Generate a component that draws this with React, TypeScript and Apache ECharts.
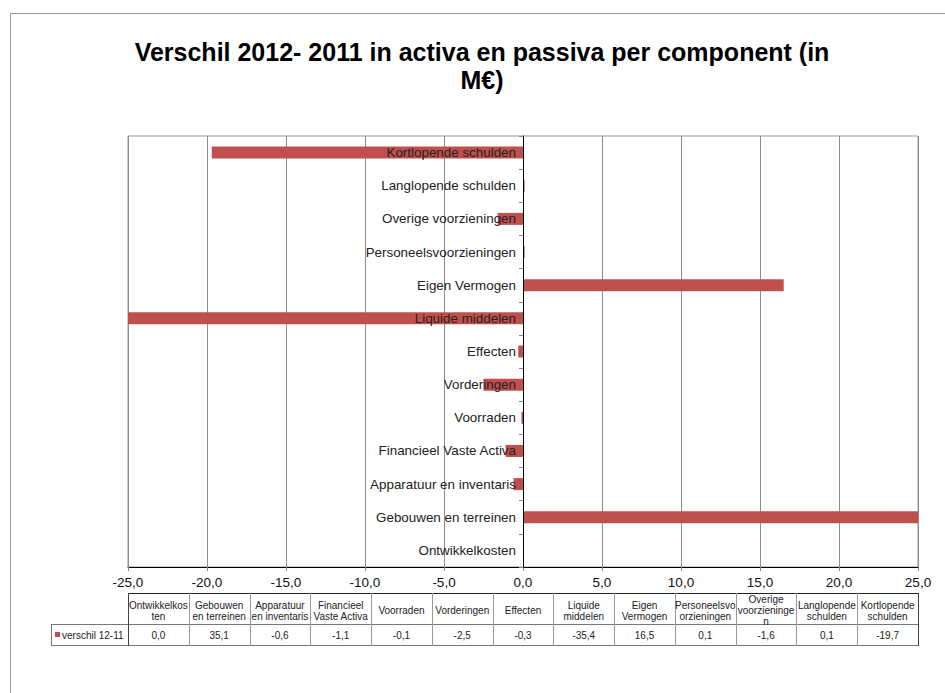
import React, { useEffect, useRef } from "react";
import * as echarts from "echarts";

const categories = [
  "Ontwikkelkosten",
  "Gebouwen en terreinen",
  "Apparatuur en inventaris",
  "Financieel Vaste Activa",
  "Voorraden",
  "Vorderingen",
  "Effecten",
  "Liquide middelen",
  "Eigen Vermogen",
  "Personeelsvoorzieningen",
  "Overige voorzieningen",
  "Langlopende schulden",
  "Kortlopende schulden",
];

const tableHeaders = [
  "Ontwikkelkos\nten",
  "Gebouwen\nen terreinen",
  "Apparatuur\nen inventaris",
  "Financieel\nVaste Activa",
  "Voorraden",
  "Vorderingen",
  "Effecten",
  "Liquide\nmiddelen",
  "Eigen\nVermogen",
  "Personeelsvo\norzieningen",
  "Overige\nvoorzieninge\nn",
  "Langlopende\nschulden",
  "Kortlopende\nschulden",
];

const seriesName = "verschil 12-11";
const values = [0.0, 35.1, -0.6, -1.1, -0.1, -2.5, -0.3, -35.4, 16.5, 0.1, -1.6, 0.1, -19.7];

const titleText = "Verschil 2012- 2011 in activa en passiva per component (in\nM€)";
const xMin = -25;
const xMax = 25;
const xInterval = 5;

const FONT = '"Liberation Sans", Arial, sans-serif';
const BAR = "#c0504d";

const fmt = (v: number) => v.toFixed(1).replace(".", ",");

export default function App() {
  const ref = useRef<HTMLDivElement>(null);
  useEffect(() => {
    if (!ref.current) return;
    const chart = echarts.init(ref.current, null, { renderer: "svg" });

    const gl = 128;
    const gr = 918;
    const colW = (gr - gl) / categories.length;
    const y0 = 593;
    const y1 = 624;
    const y2 = 645;
    const lx = 51;
    const zeroX = gl + ((0 - xMin) / (xMax - xMin)) * (gr - gl);

    const graphics: any[] = [];
    graphics.push({
      type: "polyline",
      shape: { points: [[10.5, 700], [10.5, 13.5], [950, 13.5]] },
      style: { stroke: "#9a9a9a", lineWidth: 1, fill: "none" },
    });
    graphics.push({
      type: "text",
      x: 482,
      y: 66,
      style: {
        text: titleText,
        font: `bold 25px ${FONT}`,
        fill: "#000",
        align: "center",
        verticalAlign: "middle",
        lineHeight: 28,
      },
    });
    const hline = (x1: number, x2: number, y: number, c: string) =>
      graphics.push({ type: "line", shape: { x1, y1: y + 0.5, x2, y2: y + 0.5 }, style: { stroke: c, lineWidth: 1 } });
    const vline = (x: number, ya: number, yb: number, c: string) =>
      graphics.push({ type: "line", shape: { x1: x + 0.5, y1: ya, x2: x + 0.5, y2: yb }, style: { stroke: c, lineWidth: 1 } });
    hline(gl, gr, y0, "#222");
    hline(lx, gr, y1, "#777");
    hline(lx, gr, y2, "#777");
    vline(lx, y1, y2 + 1, "#777");
    vline(gl, y0, y2 + 1, "#444");
    for (let i = 1; i < categories.length; i++) {
      vline(Math.round(gl + i * colW), y0, y2 + 1, "#999");
    }
    vline(gr, y0, y2 + 1, "#444");
    tableHeaders.forEach((h, i) => {
      graphics.push({
        type: "text",
        x: gl + (i + 0.5) * colW,
        y: (y0 + y1) / 2 + 2,
        style: {
          text: h,
          font: `10px ${FONT}`,
          fill: "#222",
          align: "center",
          verticalAlign: "middle",
          lineHeight: 11,
        },
      });
    });
    values.forEach((v, i) => {
      graphics.push({
        type: "text",
        x: gl + (i + 0.5) * colW,
        y: (y1 + y2) / 2 + 1,
        style: {
          text: fmt(v),
          font: `10px ${FONT}`,
          fill: "#222",
          align: "center",
          verticalAlign: "middle",
        },
      });
    });
    graphics.push({
      type: "rect",
      shape: { x: 55, y: 632, width: 5, height: 5 },
      style: { fill: BAR },
    });
    graphics.push({
      type: "text",
      x: 62,
      y: (y1 + y2) / 2 + 1,
      style: {
        text: seriesName,
        font: `10px ${FONT}`,
        fill: "#222",
        align: "left",
        verticalAlign: "middle",
      },
    });

    chart.setOption({
      animation: false,
      backgroundColor: "#fff",
      grid: {
        left: gl,
        right: 945 - gr,
        top: 136,
        bottom: 693 - 567,
        show: true,
        borderColor: "#999",
        borderWidth: 1,
        containLabel: false,
        outerBoundsMode: "none",
      },
      xAxis: {
        type: "value",
        min: xMin,
        max: xMax,
        interval: xInterval,
        axisLine: { show: true, onZero: false, lineStyle: { color: "#000", width: 1 } },
        axisTick: { show: true, length: 4, lineStyle: { color: "#888" } },
        axisLabel: {
          formatter: (v: number) => fmt(v),
          fontFamily: FONT,
          fontSize: 13.5,
          color: "#111",
          margin: 8,
        },
        splitLine: { show: true, lineStyle: { color: "#8c8c8c", width: 1 } },
      },
      yAxis: {
        type: "category",
        data: categories,
        z: 10,
        position: "left",
        offset: -(zeroX - gl),
        axisLine: { show: true, onZero: false, lineStyle: { color: "#000", width: 1 } },
        axisTick: { show: true, length: 4, lineStyle: { color: "#888" } },
        axisLabel: {
          fontFamily: FONT,
          fontSize: 13.4,
          color: "#222",
          margin: 7,
        },
        splitLine: { show: false },
      },
      series: [
        {
          name: seriesName,
          type: "bar",
          data: values,
          barWidth: 12,
          clip: true,
          itemStyle: { color: BAR },
        },
      ],
      graphic: graphics,
    });
    return () => chart.dispose();
  }, []);
  return <div ref={ref} style={{ position: "absolute", left: 0, top: 0, width: 945, height: 693 }} />;
}
